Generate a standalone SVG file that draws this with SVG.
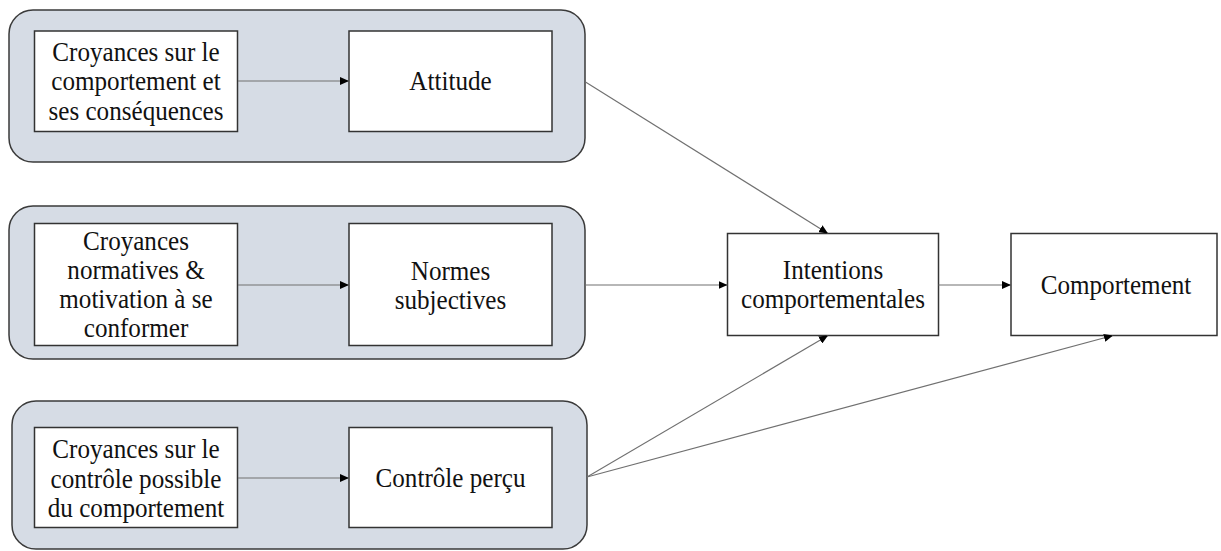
<svg xmlns="http://www.w3.org/2000/svg" width="1221" height="551" viewBox="0 0 1221 551">
<style>
.grp{fill:#d6dce5;stroke:#3a3a3a;stroke-width:1.5}
.box{fill:#ffffff;stroke:#333333;stroke-width:1.5}
.lbl{font-family:"Liberation Serif","Times New Roman",serif;font-size:27px;fill:#111111;text-anchor:middle}
.con{stroke:#707070;stroke-width:1.1;fill:none;marker-end:url(#ah)}
</style>
<defs>
<marker id="ah" markerUnits="userSpaceOnUse" markerWidth="10" markerHeight="8" refX="9" refY="4" orient="auto">
<path d="M0,0 L9,4 L0,8 Z" fill="#000000"/>
</marker>
</defs>
<rect width="1221" height="551" fill="#ffffff"/>
<g id="group-attitude">
<rect class="grp" x="9" y="10" width="576" height="152" rx="24"/>
</g>
<g id="group-normes">
<rect class="grp" x="9" y="206" width="576" height="153" rx="24"/>
</g>
<g id="group-controle">
<rect class="grp" x="12" y="401" width="575" height="148" rx="24"/>
</g>
<g id="node-croyances-comportement">
<rect class="box" x="34.5" y="31" width="203" height="100.5"/>
<g transform="translate(136 0) scale(0.93 1)">
<text class="lbl" x="0" y="61">Croyances sur le</text>
<text class="lbl" x="0" y="90.5">comportement et</text>
<text class="lbl" x="0" y="120">ses conséquences</text>
</g>
</g>
<g id="node-attitude">
<rect class="box" x="349" y="31" width="203" height="100.5"/>
<g transform="translate(450.5 0) scale(0.93 1)">
<text class="lbl" x="0" y="90">Attitude</text>
</g>
</g>
<g id="node-croyances-normatives">
<rect class="box" x="34.5" y="223.5" width="203" height="122"/>
<g transform="translate(136 0) scale(0.93 1)">
<text class="lbl" x="0" y="250">Croyances</text>
<text class="lbl" x="0" y="279">normatives &amp;</text>
<text class="lbl" x="0" y="308">motivation à se</text>
<text class="lbl" x="0" y="337">conformer</text>
</g>
</g>
<g id="node-normes">
<rect class="box" x="349" y="223.5" width="203" height="122"/>
<g transform="translate(450.5 0) scale(0.93 1)">
<text class="lbl" x="0" y="280">Normes</text>
<text class="lbl" x="0" y="309">subjectives</text>
</g>
</g>
<g id="node-croyances-controle">
<rect class="box" x="34.5" y="427.5" width="203" height="100"/>
<g transform="translate(136 0) scale(0.93 1)">
<text class="lbl" x="0" y="458.5">Croyances sur le</text>
<text class="lbl" x="0" y="488">contrôle possible</text>
<text class="lbl" x="0" y="517">du comportement</text>
</g>
</g>
<g id="node-controle-percu">
<rect class="box" x="349" y="427.5" width="203" height="100"/>
<g transform="translate(450.5 0) scale(0.93 1)">
<text class="lbl" x="0" y="487">Contrôle perçu</text>
</g>
</g>
<g id="node-intentions">
<rect class="box" x="727.5" y="233.5" width="211" height="102"/>
<g transform="translate(833 0) scale(0.93 1)">
<text class="lbl" x="0" y="279">Intentions</text>
<text class="lbl" x="0" y="308">comportementales</text>
</g>
</g>
<g id="node-comportement">
<rect class="box" x="1011" y="233.5" width="206" height="102"/>
<g transform="translate(1116 0) scale(0.93 1)">
<text class="lbl" x="0" y="294">Comportement</text>
</g>
</g>
<g id="connectors">
<line class="con" x1="238" y1="81" x2="349" y2="81"/>
<line class="con" x1="238" y1="285" x2="349" y2="285"/>
<line class="con" x1="238" y1="478" x2="349" y2="478"/>
<line class="con" x1="585.5" y1="82" x2="828" y2="233.5"/>
<line class="con" x1="585.5" y1="285" x2="727.5" y2="285"/>
<line class="con" x1="938.5" y1="285" x2="1011" y2="285"/>
<line class="con" x1="587" y1="477" x2="828" y2="335.5"/>
<line class="con" x1="587" y1="477" x2="1113" y2="335.5"/>
</g>
</svg>
